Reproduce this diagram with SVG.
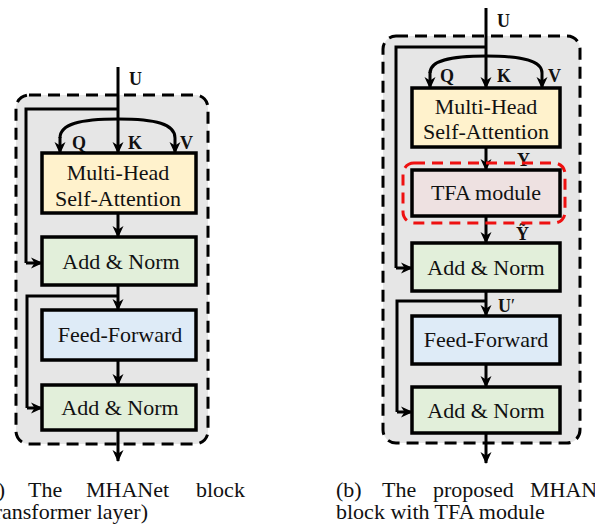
<svg xmlns="http://www.w3.org/2000/svg" width="595" height="532" viewBox="0 0 595 532">
<style>
.cont{fill:#e6e6e6;stroke:#000;stroke-width:3;stroke-dasharray:12 7}
.box{stroke:#000;stroke-width:3.5}
.mh{fill:#fff2cc}.an{fill:#e2efda}.ff{fill:#deebf7}.tfa{fill:#eee1e1}
.red{fill:none;stroke:#ee1111;stroke-width:3;stroke-dasharray:11 7}
.t{font-family:"Liberation Serif","Times New Roman",serif;font-size:22px;fill:#111;text-anchor:middle}
.lb{font-family:"Liberation Serif","Times New Roman",serif;font-size:18px;font-weight:bold;fill:#111}
.cap{font-family:"Liberation Serif","Times New Roman",serif;font-size:22px;fill:#111}
.ln{fill:none;stroke:#000;stroke-width:3}
.ar{marker-end:url(#ah)}
</style>
<defs>
<marker id="ah" markerUnits="userSpaceOnUse" markerWidth="12" markerHeight="12" viewBox="0 0 12 12" refX="11" refY="6" orient="auto">
<path d="M0,0.5 L12,6 L0,11.5 L3.5,6 Z" fill="#000"/>
</marker>
</defs>

<g id="container-a"><rect class="cont" x="16" y="95" width="192" height="349" rx="13"/></g>
<g id="container-b"><rect class="cont" x="383" y="36" width="197" height="407" rx="13"/></g>

<g id="connectors">
<!-- panel a -->
<path class="ln ar" d="M118,67 V153"/>
<path class="ln" d="M118,109 H26 V263"/>
<path class="ln ar" d="M26,263 H42"/>
<path class="ln ar" d="M60,138 C60,124 80,119 118,119 C156,119 175,124 175,138 V153"/>
<path class="ln ar" d="M60,137 V153"/>
<path class="ln ar" d="M118,213 V237"/>
<path class="ln ar" d="M118,285 V310"/>
<path class="ln" d="M118,296 H27 V408"/>
<path class="ln ar" d="M27,408 H42"/>
<path class="ln ar" d="M118,360 V385"/>
<path class="ln ar" d="M118,430 V461"/>
<!-- panel b -->
<path class="ln ar" d="M486,8 V88"/>
<path class="ln" d="M486,47 H396 V268"/>
<path class="ln ar" d="M396,268 H412"/>
<path class="ln ar" d="M430,73 C430,61 449,56 486,56 C523,56 542,61 542,73 V88"/>
<path class="ln ar" d="M430,72 V88"/>
<path class="ln ar" d="M486,147 V170"/>
<path class="ln ar" d="M486,216 V243"/>
<path class="ln ar" d="M486,291 V316"/>
<path class="ln" d="M486,301 H397 V412"/>
<path class="ln ar" d="M397,412 H412"/>
<path class="ln ar" d="M486,364 V387"/>
<path class="ln ar" d="M486,433 V463"/>
</g>

<g id="labels-a">
<text class="lb" x="129" y="85">U</text>
<text class="lb" x="72" y="149">Q</text>
<text class="lb" x="128" y="149">K</text>
<text class="lb" x="180" y="149">V</text>
</g>
<g id="labels-b">
<text class="lb" x="497" y="27">U</text>
<text class="lb" x="440" y="82">Q</text>
<text class="lb" x="497" y="82">K</text>
<text class="lb" x="548" y="82">V</text>
<text class="lb" x="517" y="166">Y</text>
<text class="lb" x="516" y="240">Ỹ</text>
<text class="lb" x="498" y="312">U<tspan font-weight="normal">′</tspan></text>
</g>

<g id="mhsa-a"><rect class="box mh" x="42" y="153" width="154" height="60"/>
<text class="t" x="118" y="180">Multi-Head</text><text class="t" x="118" y="206">Self-Attention</text></g>
<g id="addnorm1-a"><rect class="box an" x="42" y="237" width="154" height="48"/>
<text class="t" x="121" y="269">Add &amp; Norm</text></g>
<g id="ff-a"><rect class="box ff" x="42" y="310" width="154" height="50"/>
<text class="t" x="120" y="342">Feed-Forward</text></g>
<g id="addnorm2-a"><rect class="box an" x="42" y="385" width="154" height="45"/>
<text class="t" x="120" y="415">Add &amp; Norm</text></g>

<g id="mhsa-b"><rect class="box mh" x="412" y="88" width="148" height="59"/>
<text class="t" x="486" y="114">Multi-Head</text><text class="t" x="486" y="139">Self-Attention</text></g>
<g id="tfa-b"><rect class="red" x="403" y="163" width="162" height="60" rx="11"/>
<rect class="box tfa" x="412" y="170" width="148" height="46"/>
<text class="t" x="486" y="200">TFA module</text></g>
<g id="addnorm1-b"><rect class="box an" x="412" y="243" width="148" height="48"/>
<text class="t" x="486" y="275">Add &amp; Norm</text></g>
<g id="ff-b"><rect class="box ff" x="412" y="316" width="148" height="48"/>
<text class="t" x="486" y="347">Feed-Forward</text></g>
<g id="addnorm2-b"><rect class="box an" x="412" y="387" width="148" height="46"/>
<text class="t" x="486" y="418">Add &amp; Norm</text></g>

<g id="caption-a">
<text class="cap" x="5" y="497" text-anchor="end">(a)</text>
<text class="cap" x="28" y="497">The</text>
<text class="cap" x="86" y="497">MHANet</text>
<text class="cap" x="196" y="497">block</text>
<text class="cap" x="148" y="519" text-anchor="end">(transformer layer)</text>
</g>
<g id="caption-b">
<text class="cap" x="336" y="497">(b)</text>
<text class="cap" x="382" y="497">The</text>
<text class="cap" x="433" y="497">proposed</text>
<text class="cap" x="530" y="497">MHANet</text>
<text class="cap" x="336" y="519">block with TFA module</text>
</g>
</svg>
